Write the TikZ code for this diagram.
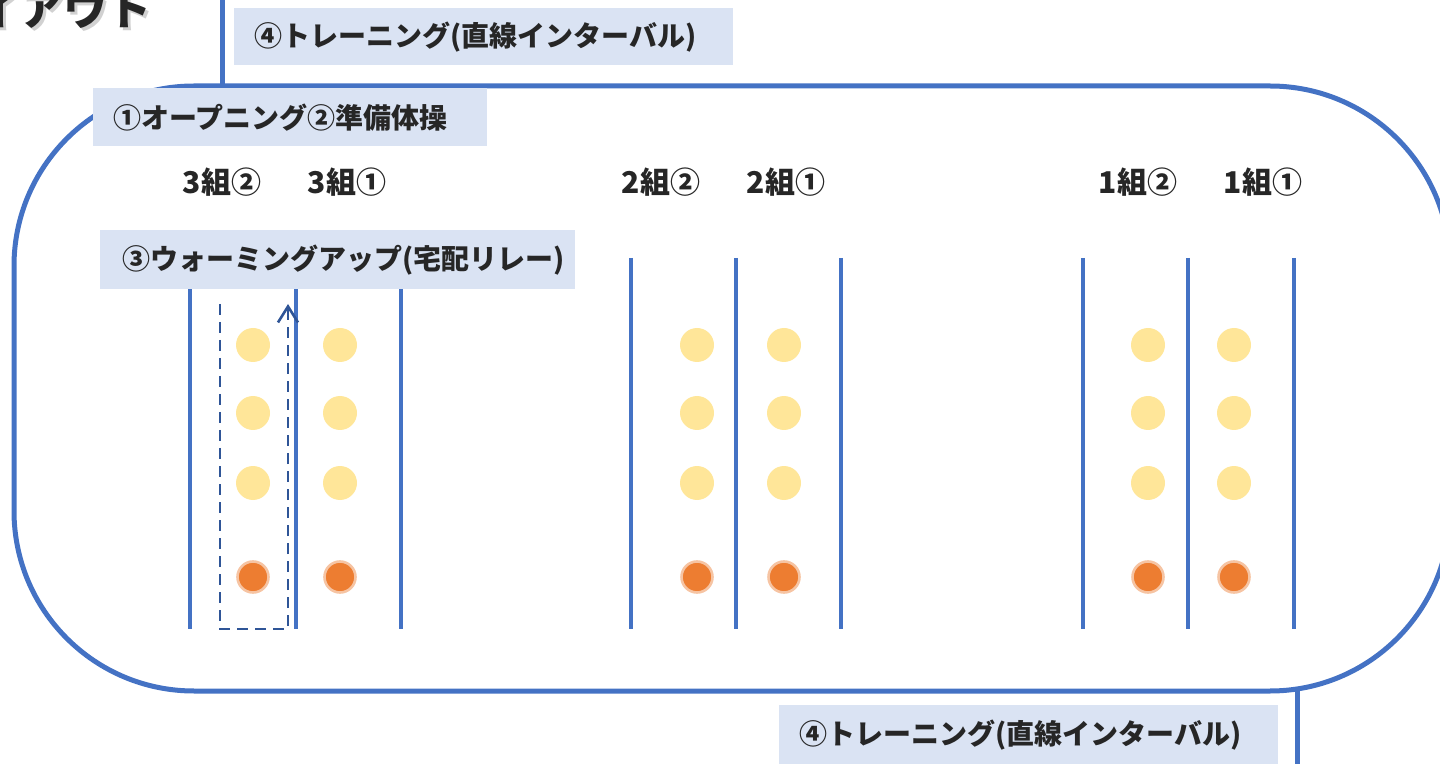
\documentclass[tikz,border=0pt]{standalone}
\usepackage{fontspec}
\newfontfamily\jp{Noto Sans CJK JP}
\usetikzlibrary{arrows.meta,calc}
\definecolor{trackblue}{HTML}{4472C4}
\definecolor{dashblue}{HTML}{2F5597}
\definecolor{boxfill}{HTML}{DAE3F3}
\definecolor{txt}{HTML}{262626}
\definecolor{dotyellow}{HTML}{FFE699}
\definecolor{dotorange}{HTML}{ED7D31}
\definecolor{halo}{HTML}{F6C4A3}
\tikzset{
  track/.style={draw=trackblue, line width=2.5pt},
  lane/.style={draw=trackblue, line width=1.6pt},
  lbl/.style={fill=boxfill, anchor=north west, inner xsep=10pt, inner ysep=0pt,
    align=left, font=\jp\bfseries\fontsize{14}{16}\selectfont, text=txt},
  grp/.style={font=\jp\bfseries\fontsize{15}{17}\selectfont, text=txt},
  ydot/.style={circle, fill=dotyellow, minimum size=17pt, inner sep=0pt},
  odot/.style={circle, fill=dotorange, draw=halo, line width=1.3pt, minimum size=15.5pt, inner sep=0pt},
  route/.style={draw=dashblue, line width=1.3pt, dash pattern=on 5.5pt off 3.5pt},
}
\begin{document}
\begin{tikzpicture}[x=0.5pt,y=-0.5pt]
\useasboundingbox (0,0) rectangle (1440,764);
% title fragment
\node[anchor=base east, font=\jp\bfseries\fontsize{22}{24}\selectfont, text=black!18] (titleshadow) at (162,29) {イアウト};
\node[anchor=base east, font=\jp\bfseries\fontsize{22}{24}\selectfont, text=txt] (title) at (159,26) {イアウト};
% connectors from labels to track
\coordinate (topend) at (222,0);
\coordinate (topjoin) at (222,86);
\coordinate (botjoin) at (1297,691);
\coordinate (botend) at (1297,764);
\draw[track] (topend) -- (topjoin);
\draw[track] (botjoin) -- (botend);
% track
\draw[track, rounded corners=90pt] (14,86) rectangle (1450,691);
% lanes
\foreach \x/\n in {190/a,296/b,401/c,631/d,736/e,841/f,1083/g,1188/h,1294/i}{
  \coordinate (lt\n) at (\x,258);
  \coordinate (lb\n) at (\x,629);
  \draw[lane] (lt\n) -- (lb\n);
}
% dots
\foreach \x/\n in {253/a,340/b,697/c,784/d,1148/e,1234/f}{
  \node[ydot] (y1\n) at (\x,345) {};
  \node[ydot] (y2\n) at (\x,413) {};
  \node[ydot] (y3\n) at (\x,483) {};
  \node[odot] (o\n) at (\x,577) {};
}
% dashed route
\coordinate (r1) at (220,304);
\coordinate (r2) at (220,629);
\coordinate (r3) at (288,629);
\coordinate (r4) at (288,304);
\draw[route] (r1) -- (r2) -- (r3) -- (r4);
\draw[draw=dashblue, line width=1.3pt, -{Straight Barb[length=8pt,width=10pt]}] ($(r4)+(0,10)$) -- (r4);
% label boxes
\node[lbl, text width=229.5pt, minimum height=28.5pt] (train1) at (234,8) {④トレーニング(直線インターバル)};
\node[lbl, text width=177pt, minimum height=29pt] (open) at (93,88) {①オープニング②準備体操};
\node[lbl, inner xsep=11pt, text width=215.5pt, minimum height=29.5pt] (warm) at (100,230) {③ウォーミングアップ(宅配リレー)};
\node[lbl, text width=229.5pt, minimum height=29.5pt] (train2) at (779,705) {④トレーニング(直線インターバル)};
% group labels
\node[grp] (g32) at (222,182) {3組②};
\node[grp] (g31) at (347,182) {3組①};
\node[grp] (g22) at (661,182) {2組②};
\node[grp] (g21) at (786,182) {2組①};
\node[grp] (g12) at (1138,182) {1組②};
\node[grp] (g11) at (1263,182) {1組①};
\end{tikzpicture}
\end{document}
